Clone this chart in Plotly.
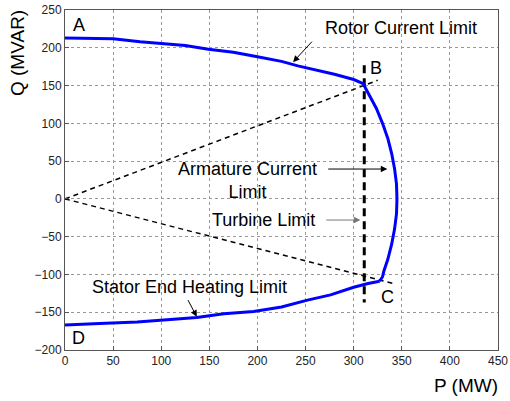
import plotly.graph_objects as go

# Rotor current limit (A -> B)
rotor_P = [0, 25, 50, 78, 100, 125, 149, 175, 200, 225, 242, 260, 280, 300, 311]
rotor_Q = [213, 213, 212, 208, 206, 203, 198, 194, 188, 182, 176, 171, 165, 158, 152]

# Armature current limit (B -> C)
arm_P = [310, 315, 323.5, 330, 335.5, 339.5, 342.5, 344.5, 345, 344.5, 342.5, 339.5, 335.5, 331.5, 330, 327]
arm_Q = [152, 140, 120, 100, 80, 60, 40, 20, 0, -20, -40, -60, -80, -95, -103, -109]

# Stator end heating limit (C -> D)
stator_P = [327, 315, 300, 276, 252, 225, 196, 165, 137, 100, 75, 36, 0]
stator_Q = [-109, -112, -117, -127, -134, -143, -149, -152, -157, -161, -163, -165, -167]

# Dashed construction lines
upper_P = [0, 325]
upper_Q = [0, 157]
lower_P = [0, 341]
lower_Q = [0, -112]
turbine_P = [311, 311]
turbine_Q = [177, -137]

FONT = "Liberation Sans, Arial, sans-serif"

fig = go.Figure()
for px, qy in [(upper_P, upper_Q), (lower_P, lower_Q)]:
    fig.add_trace(go.Scatter(x=px, y=qy, mode="lines",
                             line=dict(color="black", width=1.5, dash="5px,4px"),
                             hoverinfo="skip", showlegend=False))
fig.add_trace(go.Scatter(x=turbine_P, y=turbine_Q, mode="lines",
                         line=dict(color="black", width=3, dash="8px,5px"),
                         hoverinfo="skip", showlegend=False))
for px, qy in [(rotor_P, rotor_Q), (arm_P, arm_Q), (stator_P, stator_Q)]:
    fig.add_trace(go.Scatter(x=px, y=qy, mode="lines",
                             line=dict(color="#0000FF", width=3),
                             hoverinfo="skip", showlegend=False))

ann = []
def label(x, y, t, size=18):
    ann.append(dict(x=x, y=y, xref="x", yref="y", text=t, showarrow=False,
                    xanchor="center", yanchor="middle",
                    font=dict(family=FONT, size=size, color="black")))

label(15, 230, "A")
label(323, 173, "B")
label(335, -130, "C")
label(14, -184, "D")
label(349, 226, "Rotor Current Limit")
label(129, -117, "Stator End Heating Limit")
label(190, 24, "Armature Current<br>Limit")
label(206, -28, "Turbine Limit")

def arrow(x0, y0, x1, y1, color="black"):
    ann.append(dict(x=x1, y=y1, ax=x0, ay=y0, xref="x", yref="y", axref="x", ayref="y",
                    text="", showarrow=True, arrowhead=2, arrowsize=1.3, arrowwidth=1,
                    arrowcolor=color))

arrow(258, 210, 237, 181)
arrow(127, -132, 137, -156)
arrow(272, 39.5, 335, 39.5)
arrow(270, -28, 307, -28, color="#777777")

ann.append(dict(x=0, y=0.872, xref="paper", yref="paper", xshift=-47.5,
                xanchor="center", yanchor="middle",
                text="Q (MVAR)", textangle=-90, showarrow=False,
                font=dict(family=FONT, size=19, color="black")))
ann.append(dict(x=0.925, y=-0.103, xref="paper", yref="paper",
                xanchor="center", yanchor="middle",
                text="P (MW)", showarrow=False,
                font=dict(family=FONT, size=19, color="black")))

axis_common = dict(showline=True, mirror=True, linecolor="#555555", linewidth=1,
                   ticks="inside", ticklen=4, tickcolor="#555555",
                   showgrid=True, gridcolor="#999999", griddash="dot", gridwidth=1,
                   zeroline=False, dtick=50, automargin=False,
                   tickfont=dict(family=FONT, size=12, color="#222222"))

fig.update_layout(
    width=510, height=401,
    margin=dict(l=65, r=12, t=10, b=51),
    paper_bgcolor="white", plot_bgcolor="white",
    xaxis=dict(range=[0, 450], tick0=0, **axis_common),
    yaxis=dict(range=[-200, 250], tick0=-200, **axis_common),
    annotations=ann,
)

fig.write_html("out.html")
